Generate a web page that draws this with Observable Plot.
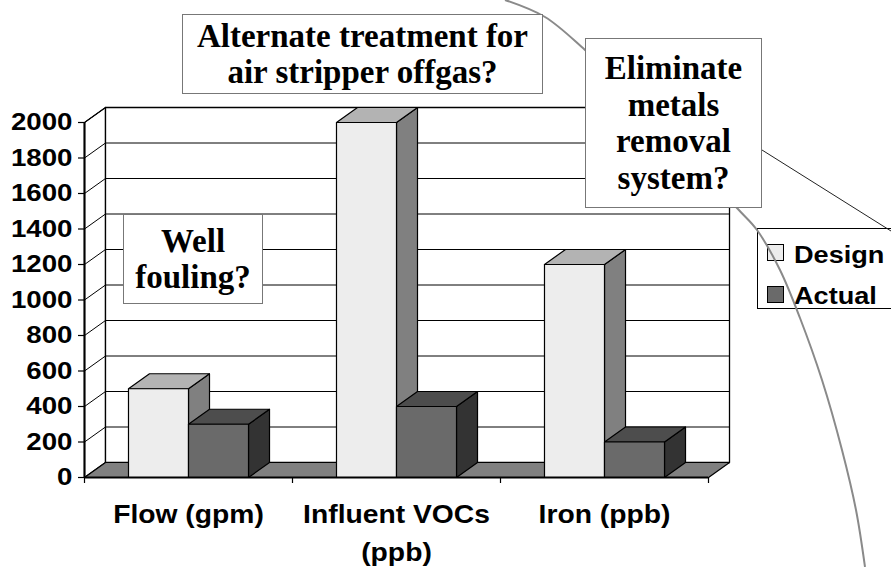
<!DOCTYPE html>
<html>
<head>
<meta charset="utf-8">
<script src="https://cdn.jsdelivr.net/npm/d3@7"></script>
<script src="https://cdn.jsdelivr.net/npm/@observablehq/plot@0.6"></script>
<style>
  body { margin: 0; background: #fff; }
  #wrap { position: relative; width: 891px; height: 567px; overflow: hidden; background: #fff; }
  #wrap > svg { position: absolute; left: 0; top: 0; }
  .box { position: absolute; background: #fff; border: 1.5px solid #777; box-sizing: border-box;
         display: flex; align-items: center; justify-content: center; text-align: center;
         font-family: "Liberation Serif", "Times New Roman", serif; font-weight: bold;
         font-size: 33px; line-height: 36.5px; color: #000; white-space: pre; }
  #legend { position: absolute; left: 757px; top: 228px; width: 140px; height: 81px;
            border: 1px solid #000; background: #fff; box-sizing: border-box;
            font-family: "Liberation Sans", Arial, sans-serif; font-weight: bold; font-size: 24px; }
  #legend .sw { position: absolute; left: 9px; width: 17px; height: 17px; border: 1px solid #000; box-sizing: border-box; }
  #legend .lt { position: absolute; left: 36px; line-height: normal; transform: scaleX(1.13); transform-origin: 0 0; color: #000; }
  #deco { position: absolute; left: 0; top: 0; pointer-events: none; }
</style>
</head>
<body>
<div id="wrap"></div>
<script>
// ---- data ----
const categories = ["Flow (gpm)", "Influent VOCs\n(ppb)", "Iron (ppb)"];
const designValues = [500, 2000, 1200];
const actualValues = [300, 400, 200];
const yTicks = [0, 200, 400, 600, 800, 1000, 1200, 1400, 1600, 1800, 2000];
const seriesNames = ["Design", "Actual"];
const annotations = [
  {text: "Alternate treatment for\nair stripper offgas?", left: 182, top: 14, width: 361, height: 80},
  {text: "Eliminate\nmetals\nremoval\nsystem?", left: 585, top: 38, width: 177, height: 170},
  {text: "Well\nfouling?", left: 123, top: 214, width: 140, height: 90}
];
// decorative slide arc (not data)
const decoArc = [[505,0],[545,17],[585,50],[660,122],[737,208],[757,230],[780,270],[800,318],[822,380],[842,450],[856,510],[865,567]];
const decoLine = [[762,150],[891,231]];

// ---- styling / geometry ----
const colors = {
  Design: {front: "#ededed", top: "#b3b3b3", side: "#808080"},
  Actual: {front: "#6a6a6a", top: "#4d4d4d", side: "#333333"}
};
const X_MAX = categories.length, Y_MAX = yTicks[yTicks.length - 1];
const BW = 0.2885, DX = 0.101, DY = 84.5;
const SANS = "Liberation Sans, Arial, sans-serif";
const STRETCH = 1.13;

function poly(id, pts) { return pts.map(([x, y]) => ({id, x, y})); }

function barFaces(values, name, shift) {
  const out = {front: [], top: [], side: []};
  values.forEach((v, i) => {
    const x0 = i + 0.5 + shift, x1 = x0 + BW;
    out.front.push(...poly(`${name}-f-${i}`, [[x0,0],[x1,0],[x1,v],[x0,v]]));
    out.top.push(...poly(`${name}-t-${i}`, [[x0,v],[x1,v],[x1+DX,v+DY],[x0+DX,v+DY]]));
    out.side.push(...poly(`${name}-s-${i}`, [[x1,0],[x1+DX,DY],[x1+DX,v+DY],[x1,v]]));
  });
  return out;
}

const polyMark = (rows, fill, sw = 1.2) =>
  Plot.line(rows, {x: "x", y: "y", z: "id", fill, stroke: "#000", strokeWidth: sw, curve: "linear-closed"});

const leftWall = poly("lw", [[0,0],[DX,DY],[DX,Y_MAX+DY],[0,Y_MAX]]);
const backWall = poly("bw", [[DX,DY],[X_MAX+DX,DY],[X_MAX+DX,Y_MAX+DY],[DX,Y_MAX+DY]]);
const floor = poly("fl", [[0,0],[X_MAX,0],[X_MAX+DX,DY],[DX,DY]]);
const dFaces = barFaces(designValues, "Design", -BW);
const aFaces = barFaces(actualValues, "Actual", 0);

const chart = Plot.plot({
  width: 891, height: 567,
  marginTop: 0, marginRight: 0, marginBottom: 0, marginLeft: 0,
  x: {domain: [0, X_MAX], range: [84, 708], axis: null},
  y: {domain: [0, Y_MAX], range: [477, 122], axis: null},
  marks: [
    polyMark(leftWall, "#fff", 1.3),
    polyMark(backWall, "#fff", 1.3),
    Plot.ruleY(yTicks.slice(1), {y: d => d + DY, x1: DX, x2: X_MAX + DX, stroke: "#000", strokeWidth: 1}),
    Plot.link(yTicks.slice(1), {x1: 0, y1: d => d, x2: DX, y2: d => d + DY, stroke: "#000", strokeWidth: 1}),
    polyMark(floor, "#808080", 1.2),
    polyMark(dFaces.side, colors.Design.side),
    polyMark(dFaces.top, colors.Design.top),
    polyMark(dFaces.front, colors.Design.front),
    polyMark(aFaces.side, colors.Actual.side),
    polyMark(aFaces.top, colors.Actual.top),
    polyMark(aFaces.front, colors.Actual.front),
    Plot.ruleX([0], {x: d => d, y1: 0, y2: Y_MAX, stroke: "#000", strokeWidth: 2}),
    Plot.ruleY([0], {y: d => d, x1: 0, x2: X_MAX, stroke: "#000", strokeWidth: 2}),
    Plot.ruleY(yTicks, {y: d => d, x1: -6 / 208, x2: 0, stroke: "#000", strokeWidth: 1.2}),
    Plot.ruleX(d3.range(0, X_MAX + 1), {x: d => d, y1: 0, y2: -6 / 0.1775, stroke: "#000", strokeWidth: 1.2}),
    Plot.text(yTicks, {x: 0, y: d => d, text: d => String(d), textAnchor: "end", dx: -12,
      fontSize: 24.5, fontWeight: "bold", fontFamily: SANS, fill: "#000"}),
    Plot.text(categories, {x: (d, i) => i + 0.5, y: 0, text: d => d, lineAnchor: "top", dy: 19,
      fontSize: 25, fontWeight: "bold", fontFamily: SANS, fill: "#000", lineHeight: 1.5})
  ]
});

const wrap = document.getElementById("wrap");
wrap.appendChild(chart);

// horizontal stretch of the sans labels (reference text is widened)
d3.select(chart).selectAll("text").each(function () {
  const g = this.closest("g");
  const ff = g ? (g.getAttribute("font-family") || "") : "";
  if (!ff.includes("Liberation Sans")) return;
  const parts = this.querySelectorAll("tspan");
  const targets = parts.length ? Array.from(parts) : [this];
  targets.forEach(t => {
    const L = t.getComputedTextLength();
    t.setAttribute("textLength", (L * STRETCH).toFixed(1));
    t.setAttribute("lengthAdjust", "spacingAndGlyphs");
  });
});

// legend
const legend = document.createElement("div");
legend.id = "legend";
seriesNames.forEach((name, i) => {
  const sw = document.createElement("div");
  sw.className = "sw";
  sw.style.top = (15 + i * 42) + "px";
  sw.style.background = colors[name].front;
  const lt = document.createElement("div");
  lt.className = "lt";
  lt.style.top = (12 + i * 41) + "px";
  lt.textContent = name;
  legend.appendChild(sw);
  legend.appendChild(lt);
});
wrap.appendChild(legend);

// decorative arc over the legend
const deco = d3.create("svg").attr("id", "deco").attr("width", 891).attr("height", 567);
deco.append("path").attr("d", d3.line().curve(d3.curveCatmullRom)(decoArc))
  .attr("fill", "none").attr("stroke", "#8a8a8a").attr("stroke-width", 2);
deco.append("path").attr("d", d3.line()(decoLine))
  .attr("fill", "none").attr("stroke", "#222").attr("stroke-width", 1);
wrap.appendChild(deco.node());

// annotation boxes
annotations.forEach(a => {
  const b = document.createElement("div");
  b.className = "box";
  Object.assign(b.style, {left: a.left + "px", top: a.top + "px", width: a.width + "px", height: a.height + "px"});
  b.textContent = a.text;
  wrap.appendChild(b);
});
</script>
</body>
</html>
